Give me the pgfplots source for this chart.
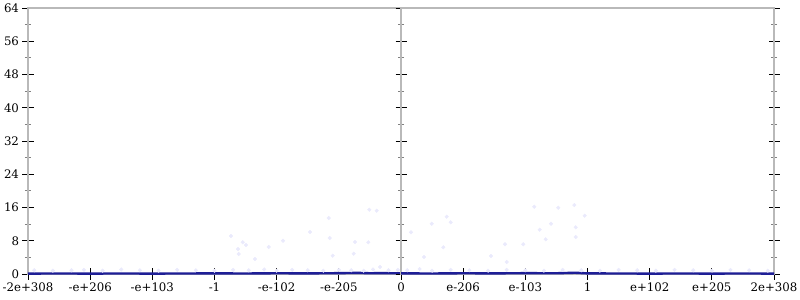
\documentclass[border=0pt]{standalone}
\usepackage{fontspec}
\setmainfont{DejaVu Serif}
\usepackage{pgfplots}
\usepackage{pgfplotstable}
\pgfplotsset{compat=1.18}
\definecolor{axgray}{RGB}{185,185,185}
\definecolor{navy}{RGB}{30,30,150}
\definecolor{faint}{RGB}{234,234,252}
\pgfplotsset{
  half/.style={
    scale only axis, width=373bp, height=266bp,
    ymin=0, ymax=64, clip=false,
    axis line style={axgray, line width=1.8bp},
    ytick={0,8,...,64}, minor y tick num=1,
    tick align=center,
    major tick length=11bp, minor tick length=6bp,
    every major tick/.style={black, line width=0.9bp},
    every minor tick/.style={gray, line width=0.8bp},
    xtick pos=bottom,
    tick label style={font=\fontsize{11.8}{13}\selectfont},
    /pgf/number format/assume math mode=true,
  },
}
\pgfplotstableread{
x y
-2.734 9.14
-2.546 7.63
-2.493 6.98
-2.622 6.02
-2.611 4.81
-2.348 3.61
-2.128 6.50
-1.898 8.01
-1.464 10.11
-1.163 13.47
-1.147 8.66
-1.099 4.40
-0.740 7.70
-0.761 4.88
-0.526 7.63
-0.510 15.47
-0.391 15.23
-0.338 1.68
-5.9 0.9
-5.6 0.8
-5.3 0.9
-5.1 1.0
-4.8 0.8
-4.5 1.1
-4.2 0.9
-3.9 0.8
-3.6 1.0
-3.3 0.9
-3.0 0.8
-2.7 1.0
-2.45 0.9
-2.2 1.1
-2.0 0.8
-1.75 1.0
-1.5 0.9
-1.25 0.8
-1.0 1.0
-0.8 0.9
-0.6 0.8
-0.45 1.1
-0.2 0.9
-0.05 1.0
}\leftpts
\pgfplotstableread{
x y
0.161 10.03
0.370 4.09
0.494 12.10
0.735 13.79
0.799 12.44
0.680 6.42
1.448 4.33
1.673 7.15
1.700 2.89
1.967 7.15
2.144 16.19
2.231 10.66
2.327 8.35
2.413 12.10
2.530 15.95
2.788 16.60
2.810 11.24
2.810 8.90
2.955 14.03
0.30 1.2
0.1 0.9
0.5 0.8
0.8 1.0
1.1 0.9
1.4 0.8
1.7 1.0
2.0 0.9
2.3 0.8
2.6 1.0
2.9 0.9
3.2 0.8
3.5 1.0
3.8 0.9
4.1 0.8
4.4 1.0
4.7 0.9
5.0 0.8
5.3 1.0
5.6 0.9
5.9 0.8
}\rightpts
\begin{document}
\begin{tikzpicture}
\useasboundingbox (0,0) rectangle (800bp,300bp);
\begin{axis}[half, at={(28bp,26bp)}, anchor=south west,
  xmin=-6, xmax=0, xtick={-6,...,0},
  xticklabels={-2e+308,-e+206,-e+103,-1,-e-102,-e-205,0}]
\addplot[only marks, color=faint, mark=*, mark size=1.8bp] table {\leftpts};
\addplot[navy, line width=2.4bp] coordinates {
(-6,0.1) (-5.5,0.12) (-5,0.1) (-4.5,0.12) (-4,0.1) (-3.5,0.12) (-3,0.15) (-2.5,0.12) (-2,0.18) (-1.5,0.15) (-1,0.2) (-0.7,0.28) (-0.5,0.18) (-0.3,0.22) (0,0.15)};
\end{axis}
\begin{axis}[half, at={(401bp,26bp)}, anchor=south west,
  xmin=0, xmax=6, xtick={1,...,6},
  xticklabels={e-206,e-103,1,e+102,e+205,2e+308},
  yticklabels={}]
\addplot[only marks, color=faint, mark=*, mark size=1.8bp] table {\rightpts};
\addplot[navy, line width=2.4bp] coordinates {
(0,0.15) (0.5,0.12) (1,0.18) (1.5,0.15) (2,0.2) (2.5,0.18) (2.8,0.3) (3,0.15) (3.5,0.12) (4,0.1) (4.5,0.12) (5,0.1) (5.5,0.12) (6,0.1)};
\end{axis}
\end{tikzpicture}
\end{document}
